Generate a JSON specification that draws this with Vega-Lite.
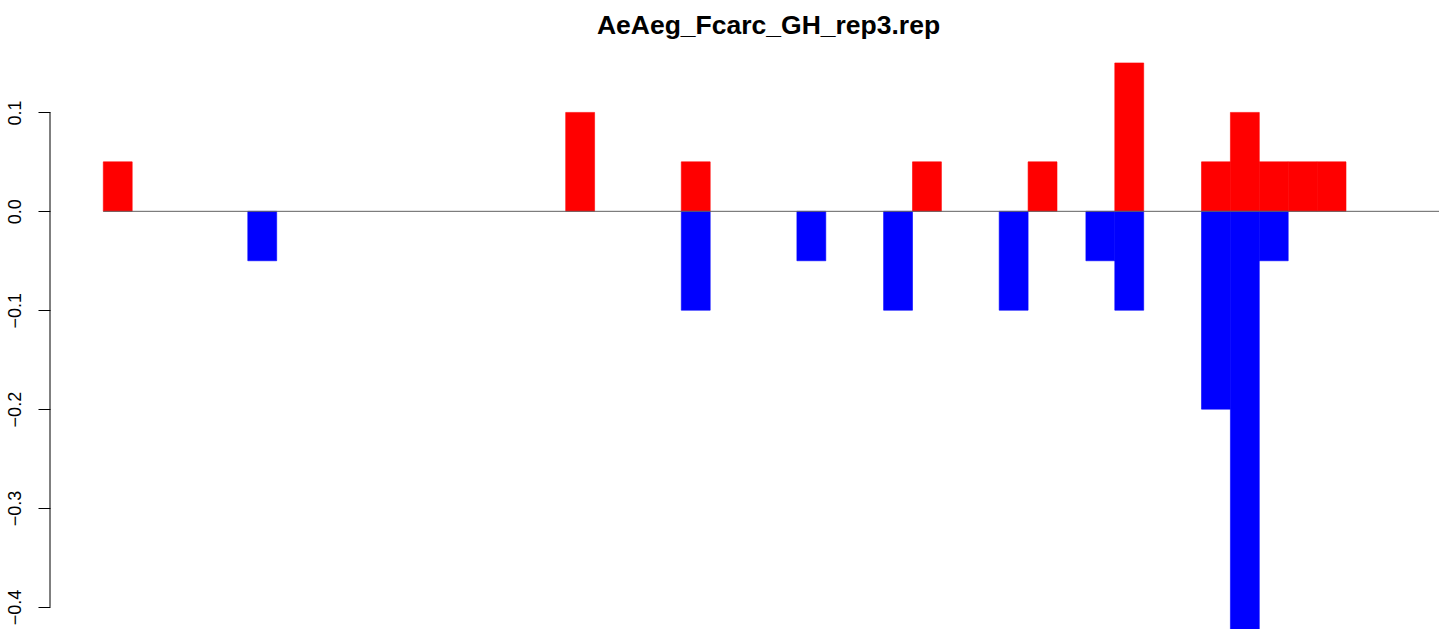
{
  "$schema": "https://vega.github.io/schema/vega-lite/v6.json",
  "autosize": {"type": "none"},
  "width": 1389,
  "height": 579,
  "padding": {"left": 50, "top": 50, "right": 0, "bottom": 0},
  "background": "white",
  "config": {"view": {"stroke": null}, "font": "Liberation Sans"},
  "title": {
    "text": "AeAeg_Fcarc_GH_rep3.rep",
    "font": "Liberation Sans",
    "fontSize": 26.5,
    "fontWeight": "bold",
    "color": "black",
    "anchor": "middle",
    "frame": "group",
    "baseline": "alphabetic",
    "offset": 12,
    "dx": 24,
    "dy": 22
  },
  "datasets": {
    "bars": [
      {"start": 0, "end": 1, "value": 0.05, "sign": "pos"},
      {"start": 16, "end": 17, "value": 0.1, "sign": "pos"},
      {"start": 20, "end": 21, "value": 0.05, "sign": "pos"},
      {"start": 28, "end": 29, "value": 0.05, "sign": "pos"},
      {"start": 32, "end": 33, "value": 0.05, "sign": "pos"},
      {"start": 35, "end": 36, "value": 0.15, "sign": "pos"},
      {"start": 38, "end": 39, "value": 0.05, "sign": "pos"},
      {"start": 39, "end": 40, "value": 0.1, "sign": "pos"},
      {"start": 40, "end": 41, "value": 0.05, "sign": "pos"},
      {"start": 41, "end": 42, "value": 0.05, "sign": "pos"},
      {"start": 42, "end": 43, "value": 0.05, "sign": "pos"},
      {"start": 5, "end": 6, "value": -0.05, "sign": "neg"},
      {"start": 20, "end": 21, "value": -0.1, "sign": "neg"},
      {"start": 24, "end": 25, "value": -0.05, "sign": "neg"},
      {"start": 27, "end": 28, "value": -0.1, "sign": "neg"},
      {"start": 31, "end": 32, "value": -0.1, "sign": "neg"},
      {"start": 34, "end": 35, "value": -0.05, "sign": "neg"},
      {"start": 35, "end": 36, "value": -0.1, "sign": "neg"},
      {"start": 38, "end": 39, "value": -0.2, "sign": "neg"},
      {"start": 39, "end": 40, "value": -0.45, "sign": "neg"},
      {"start": 40, "end": 41, "value": -0.05, "sign": "neg"}
    ],
    "one": [{"k": 1}]
  },
  "layer": [
    {
      "data": {"name": "bars"},
      "mark": {"type": "bar", "clip": true, "strokeWidth": 0.6},
      "encoding": {
        "x": {"field": "start", "type": "quantitative", "scale": {"domain": [-1.844, 46.218], "nice": false, "zero": false}, "axis": null},
        "x2": {"field": "end"},
        "y": {"field": "value", "type": "quantitative", "scale": {"domain": [-0.4223, 0.1631], "nice": false, "zero": false},
          "axis": {
            "orient": "left",
            "domain": false,
            "grid": false,
            "values": [-0.4, -0.3, -0.2, -0.1, 0, 0.1],
            "format": ".1f",
            "tickSize": 12,
            "tickColor": "black",
            "tickWidth": 1,
            "labelAngle": -90,
            "labelAlign": "center",
            "labelBaseline": "alphabetic",
            "labelPadding": 18,
            "labelFont": "Liberation Sans",
            "labelFontSize": 18,
            "labelColor": "black",
            "title": null
          }
        },
        "y2": {"datum": 0},
        "color": {"field": "sign", "type": "nominal", "scale": {"domain": ["pos", "neg"], "range": ["#ff0000", "#0000ff"]}, "legend": null},
        "stroke": {"field": "sign", "type": "nominal", "scale": {"domain": ["pos", "neg"], "range": ["#ff0000", "#0000ff"]}, "legend": null}
      }
    },
    {
      "data": {"name": "one"},
      "mark": {"type": "rule", "color": "#606060", "strokeWidth": 1},
      "encoding": {
        "x": {"datum": 0, "type": "quantitative"},
        "x2": {"datum": 46.218},
        "y": {"datum": 0, "type": "quantitative"}
      }
    },
    {
      "data": {"name": "one"},
      "mark": {"type": "rule", "color": "black", "strokeWidth": 1},
      "encoding": {
        "x": {"datum": -1.844, "type": "quantitative"},
        "y": {"datum": -0.4, "type": "quantitative"},
        "y2": {"datum": 0.1}
      }
    }
  ]
}
